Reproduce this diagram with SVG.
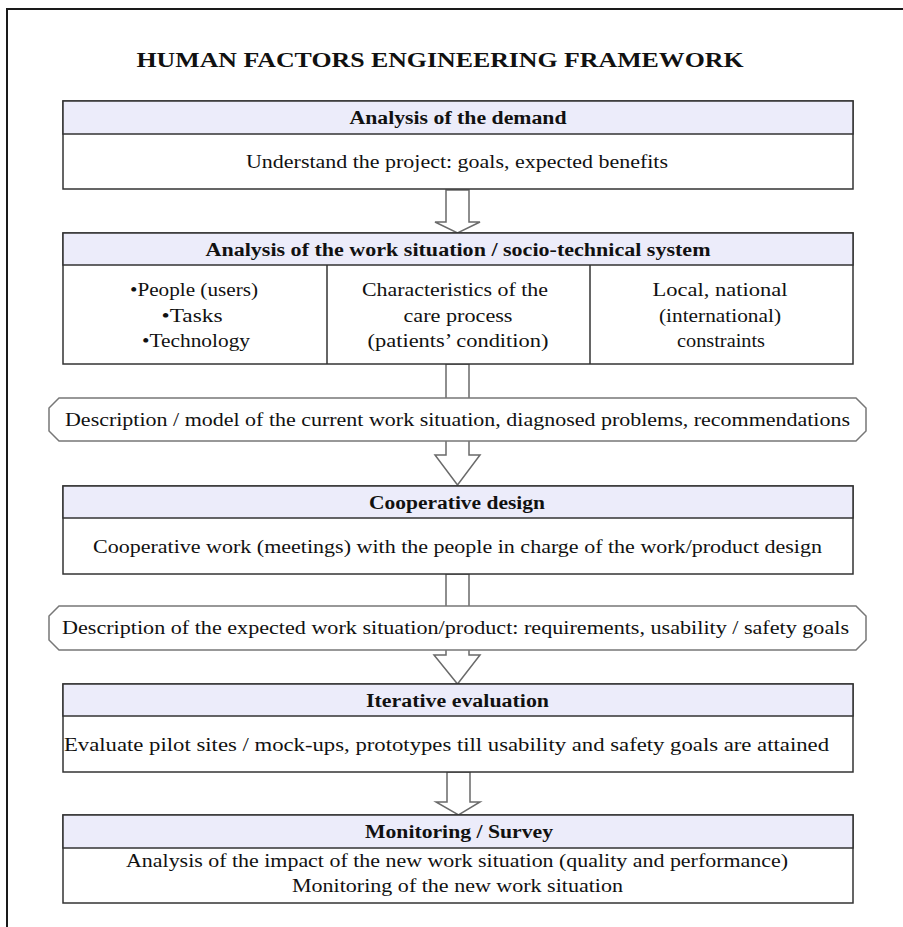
<svg xmlns="http://www.w3.org/2000/svg" width="903" height="927" viewBox="0 0 903 927">
<style>
.frame{fill:none;stroke:#1a1a1a;stroke-width:2}
.box{fill:#ffffff;stroke:#333333;stroke-width:1.5}
.hdr{fill:#ececfa;stroke:#333333;stroke-width:1.5}
.div{stroke:#333333;stroke-width:1.5}
.oct{fill:#ffffff;stroke:#777777;stroke-width:1.5}
.arr{fill:#ffffff;stroke:#6a6a6a;stroke-width:1.5;stroke-linejoin:miter}
text{font-family:"Liberation Serif","Times New Roman",serif;fill:#111111;text-anchor:middle}
.t{font-size:18px}
.b{font-size:18px;font-weight:bold}
.title{font-size:22px;font-weight:bold}
</style>
<rect x="0" y="0" width="903" height="927" fill="#ffffff"/>
<path class="frame" d="M7,927 V9 H903"/>
<text class="title" x="440" y="67" textLength="607" lengthAdjust="spacingAndGlyphs">HUMAN FACTORS ENGINEERING FRAMEWORK</text>

<g id="connectors">
<polygon class="arr" points="446,190 469,190 469,222 480,222 457.5,233 435,222 446,222"/>
<polygon class="arr" points="446,364 469,364 469,455 480,455 457.5,485 435,455 446,455"/>
<polygon class="arr" points="446,574 469,574 469,655 480,655 457.5,684 434,655 446,655"/>
<polygon class="arr" points="447,772 470,772 470,802 480,802 458.5,815 436,802 447,802"/>
</g>

<g id="analysis-demand">
<rect class="box" x="63" y="101" width="790" height="88"/>
<rect class="hdr" x="63" y="101" width="790" height="33"/>
<text class="b" x="458" y="124" textLength="217" lengthAdjust="spacingAndGlyphs">Analysis of the demand</text>
<text class="t" x="457" y="168" textLength="422" lengthAdjust="spacingAndGlyphs">Understand the project:  goals,  expected benefits</text>
</g>

<g id="analysis-work">
<rect class="box" x="63" y="233" width="790" height="131"/>
<rect class="hdr" x="63" y="233" width="790" height="32"/>
<line class="div" x1="327" y1="265" x2="327" y2="364"/>
<line class="div" x1="590" y1="265" x2="590" y2="364"/>
<text class="b" x="458" y="256" textLength="505" lengthAdjust="spacingAndGlyphs">Analysis of the work situation / socio-technical system</text>
<text class="t" x="194" y="296" textLength="128" lengthAdjust="spacingAndGlyphs">•People (users)</text>
<text class="t" x="192" y="322" textLength="61" lengthAdjust="spacingAndGlyphs">•Tasks</text>
<text class="t" x="196" y="347" textLength="108" lengthAdjust="spacingAndGlyphs">•Technology</text>
<text class="t" x="455" y="296" textLength="186" lengthAdjust="spacingAndGlyphs">Characteristics of the</text>
<text class="t" x="458" y="322" textLength="109" lengthAdjust="spacingAndGlyphs">care process</text>
<text class="t" x="458" y="347" textLength="181" lengthAdjust="spacingAndGlyphs">(patients’ condition)</text>
<text class="t" x="720" y="296" textLength="135" lengthAdjust="spacingAndGlyphs">Local, national</text>
<text class="t" x="720" y="322" textLength="122" lengthAdjust="spacingAndGlyphs">(international)</text>
<text class="t" x="721" y="347" textLength="88" lengthAdjust="spacingAndGlyphs">constraints</text>
</g>

<g id="description-current">
<polygon class="oct" points="59,398 856,398 866,408 866,431 856,441 59,441 49,431 49,408"/>
<text class="t" x="457.5" y="426" textLength="785" lengthAdjust="spacingAndGlyphs">Description / model of the current work situation, diagnosed problems, recommendations</text>
</g>

<g id="cooperative-design">
<rect class="box" x="63" y="486" width="790" height="88"/>
<rect class="hdr" x="63" y="486" width="790" height="32"/>
<text class="b" x="457" y="509" textLength="176" lengthAdjust="spacingAndGlyphs">Cooperative design</text>
<text class="t" x="457.5" y="553" textLength="729" lengthAdjust="spacingAndGlyphs">Cooperative work (meetings) with the people in charge of the work/product design</text>
</g>

<g id="description-expected">
<polygon class="oct" points="59,606 856,606 866,616 866,640 856,650 59,650 49,640 49,616"/>
<text class="t" x="455.5" y="634" textLength="787" lengthAdjust="spacingAndGlyphs">Description of the expected work situation/product: requirements, usability / safety goals</text>
</g>

<g id="iterative-evaluation">
<rect class="box" x="63" y="684" width="790" height="88"/>
<rect class="hdr" x="63" y="684" width="790" height="32"/>
<text class="b" x="457.5" y="707" textLength="183" lengthAdjust="spacingAndGlyphs">Iterative evaluation</text>
<text class="t" x="446.5" y="751" textLength="765" lengthAdjust="spacingAndGlyphs">Evaluate pilot sites / mock-ups, prototypes till usability and safety goals are attained</text>
</g>

<g id="monitoring-survey">
<rect class="box" x="63" y="815" width="790" height="88"/>
<rect class="hdr" x="63" y="815" width="790" height="33"/>
<text class="b" x="459" y="838" textLength="188" lengthAdjust="spacingAndGlyphs">Monitoring / Survey</text>
<text class="t" x="457" y="867" textLength="662" lengthAdjust="spacingAndGlyphs">Analysis of the impact of the new work situation (quality and performance)</text>
<text class="t" x="457.5" y="892" textLength="331" lengthAdjust="spacingAndGlyphs">Monitoring of the new work situation</text>
</g>
</svg>
